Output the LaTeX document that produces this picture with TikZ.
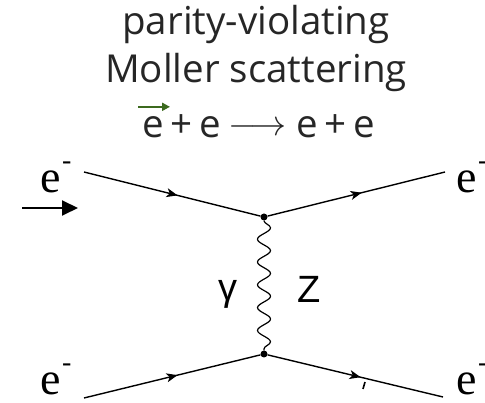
\documentclass[tikz,border=0pt]{standalone}
\usepackage{fontspec}
\setmainfont{Liberation Serif}
\newfontfamily\titlefont{Open Sans}
\newfontfamily\bosonfont{Liberation Sans}
\usetikzlibrary{arrows.meta,decorations.pathmorphing,decorations.markings}

\newcommand{\elec}{e\hspace{1.5pt}\raisebox{23pt}{\fontsize{28}{28}\selectfont -}}
\tikzset{
  vertex/.style={circle, fill=black, inner sep=0pt, minimum size=7pt},
  fermion/.style={line width=1.4pt, postaction={decorate},
    decoration={markings, mark=at position 0.53 with {\arrow{Stealth[length=11pt,width=9pt,inset=3pt]}}}},
  photon/.style={line width=1.2pt, decorate,
    decoration={snake, segment length=22.8pt, amplitude=6.5pt}},
  titletext/.style={inner sep=0pt, anchor=base, text=black!85,
    font=\titlefont\fontsize{38.5}{38.5}\selectfont},
  lepton/.style={inner sep=0pt, anchor=base west,
    font=\fontsize{46}{46}\selectfont},
  bosonlabel/.style={inner sep=0pt, anchor=base,
    font=\bosonfont\fontsize{38}{38}\selectfont}
}
\definecolor{polgreen}{HTML}{3C6A1E}

\begin{document}
\begin{tikzpicture}[x=1pt, y=-1pt]
  \useasboundingbox (0,0) rectangle (485,403);

  % Title
  \node[titletext] (line1) at (256,35)  {parity-violating};
  \node[titletext] (line2) at (256,83)  {Moller scattering};
  \node[titletext, anchor=base west] (ein) at (142,138) {e};
  \node[titletext, anchor=base west] (react) at (ein.base east)
    {\,+\,e\hspace{8pt}\raisebox{2pt}{\scalebox{1.45}{$\longrightarrow$}}\hspace{10pt}e\,+\,e};
  \draw[polgreen, line width=2pt, -{Triangle[length=8pt,width=8pt]}]
    ([xshift=-4pt, yshift=10pt]ein.north west) coordinate (pol1)
    -- ([xshift=6pt, yshift=10pt]ein.north east) coordinate (pol2);

  % Vertices
  \node[vertex] (top) at (264,217) {};
  \node[vertex] (bot) at (264,354) {};

  % External legs
  \coordinate (inA)  at (84,172);
  \coordinate (outA) at (445,172);
  \coordinate (inB)  at (84,398);
  \coordinate (outB) at (443,397);
  \draw[fermion] (inA) -- (top);
  \draw[fermion] (top) -- (outA);
  \draw[fermion] (inB) -- (bot);
  \draw[fermion] (bot) -- (outB);

  % Exchanged boson
  \draw[photon] (top) -- (bot);
  \node[bosonlabel] (gamma) at (228,301) {γ};
  \node[bosonlabel] (zed)   at (309,303) {Z};

  % Lepton labels
  \node[lepton] (eA)  at (40,193)  {\elec};
  \node[lepton] (eA2) at (456,193) {\elec};
  \node[lepton] (eB)  at (40,395)  {\elec};
  \node[lepton] (eB2) at (456,395) {\elec};

  % Beam polarisation arrow
  \coordinate (beam1) at (22,208);
  \coordinate (beam2) at (78,208);
  \draw[line width=2pt, -{Triangle[length=16pt,width=15pt]}] (beam1) -- (beam2);

  % small stroke below outgoing arrow
  \draw[line width=1.6pt] (365,382) -- (363,389);
\end{tikzpicture}
\end{document}
